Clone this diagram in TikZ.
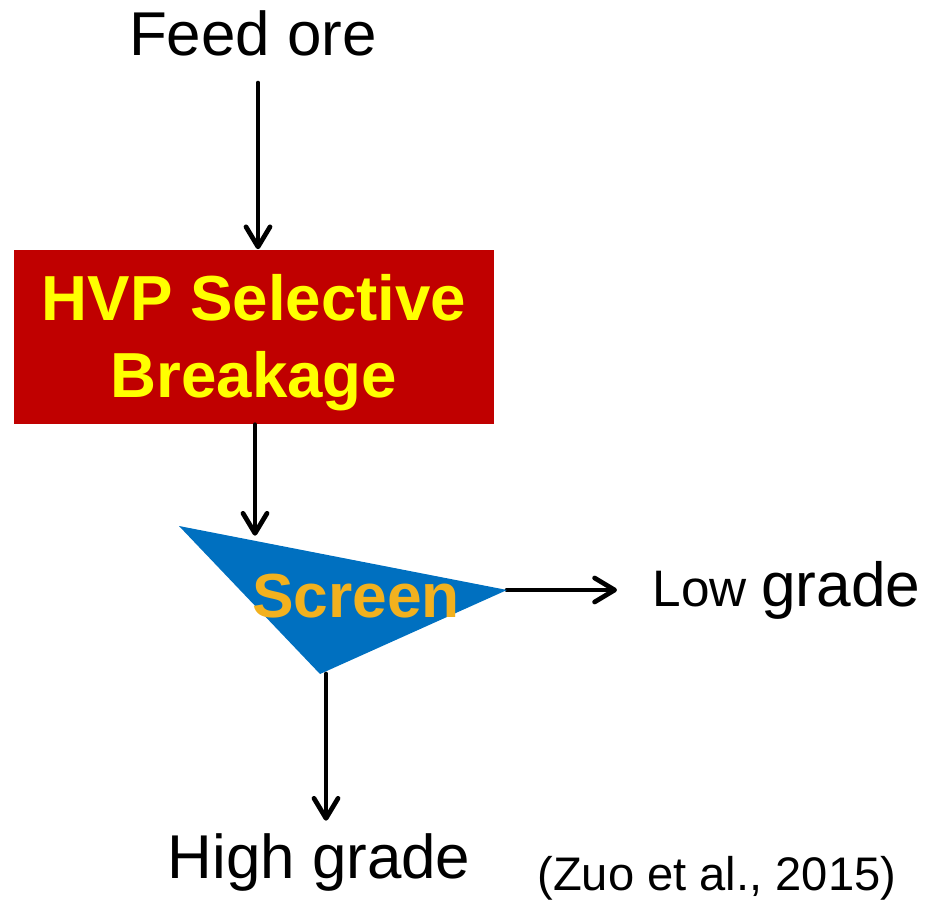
\documentclass[tikz,border=0pt]{standalone}
\usepackage{fontspec}
\setmainfont{Liberation Sans}
\usetikzlibrary{arrows.meta,positioning,calc}

\definecolor{boxred}{HTML}{C00000}
\definecolor{boxyellow}{HTML}{FFFF00}
\definecolor{screenblue}{HTML}{0070C0}
\definecolor{screengold}{HTML}{F2B11E}

\begin{document}
\begin{tikzpicture}[x=0.01cm,y=-0.01cm,
    flow/.style={line width=1.35pt,line cap=round,-{Straight Barb[length=0.2cm,width=0.24cm,line cap=round,line join=round]}},
    label/.style={anchor=base,font=\fontsize{17.6}{20}\selectfont}]
  \useasboundingbox (0,0) rectangle (931,913);

  % feed and crushing stage
  \node[label] (feed) at (253,56) {Feed ore};
  \node[fill=boxred,inner sep=0pt,minimum width=4.8cm,minimum height=1.74cm] (hvp) at (254,337) {};
  \node[text=boxyellow,align=center,font=\fontsize{18.1}{21.9}\selectfont\bfseries] (hvp-text) at (254,343) {HVP Selective\\Breakage};

  % screen corners
  \coordinate (scr-a) at (179,526);
  \coordinate (scr-b) at (507,590);
  \coordinate (scr-c) at (320,674);
  \coordinate (hit) at ($(scr-a)!0.23!(scr-b)$);

  % products
  \node[anchor=base west,inner sep=0pt] (low) at (652,606)
    {\fontsize{14.6}{16}\selectfont Low \fontsize{17.7}{20}\selectfont grade};
  \node[label] (high) at (319,878) {High grade};
  \node[anchor=base west,font=\fontsize{13.4}{16}\selectfont] (ref) at (525,890) {(Zuo et al., 2015)};

  % shaft columns
  \coordinate (col-feed) at (258,0);
  \coordinate (col-hvp) at (255,0);
  \coordinate (col-high) at (326,0);

  \draw[flow,shorten <=0.14cm] (feed.south -| col-feed) -- (hvp.north -| col-feed);
  \draw[flow,shorten >=0.05cm] (hvp.south -| col-hvp) -- (hit -| col-hvp);
  \draw[flow,shorten >=0.35cm] (scr-b) -- (scr-b -| low.west);
  \draw[flow] (scr-c -| col-high) -- (high.north -| col-high);

  \fill[screenblue] (scr-a) -- (scr-b) -- (scr-c) -- cycle;
  \node[anchor=base,text=screengold,font=\fontsize{17.7}{20}\selectfont\bfseries] (screen) at (356,617) {Screen};
\end{tikzpicture}
\end{document}
